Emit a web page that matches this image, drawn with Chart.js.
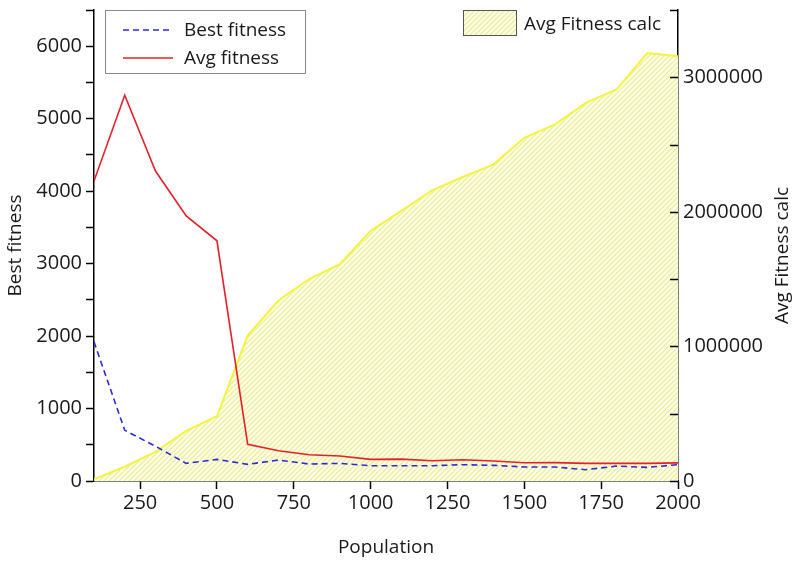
<!DOCTYPE html>
<html>
<head>
<meta charset="utf-8">
<script src="https://cdn.jsdelivr.net/npm/chart.js@4.4.1/dist/chart.umd.min.js"></script>
<style>
  html, body { margin: 0; padding: 0; background: #fff; }
  #wrap { width: 793px; height: 563px; }
</style>
</head>
<body>
<div id="wrap"><canvas id="chart" width="793" height="563"></canvas></div>
<script>
// values
const populations = [100, 200, 300, 400, 500, 600, 700, 800, 900, 1000, 1100, 1200, 1300, 1400, 1500, 1600, 1700, 1800, 1900, 2000];
const bestFitness = [1920, 700, 480, 243, 298, 230, 289, 234, 243, 211, 211, 211, 225, 216, 193, 193, 156, 206, 188, 225];
const avgFitness = [4140, 5323, 4278, 3659, 3315, 505, 417, 362, 344, 298, 302, 280, 293, 275, 252, 253, 243, 243, 243, 250];
const avgFitnessCalc = [12600, 106000, 217000, 373000, 481000, 1081000, 1341000, 1501000, 1612000, 1859000, 2007000, 2160000, 2259000, 2353000, 2550000, 2650000, 2810000, 2909000, 3180000, 3156000];
const xTicks = [250, 500, 750, 1000, 1250, 1500, 1750, 2000];

const FONT = '"Open Sans", "Noto Sans", sans-serif';
const TEXT = '#1a1a1a';

// hatched yellow fill
const makeHatch = () => {
  const c = document.createElement('canvas');
  c.width = 5; c.height = 5;
  const g = c.getContext('2d');
  g.fillStyle = '#fffff0';
  g.fillRect(0, 0, 5, 5);
  g.strokeStyle = '#eeee98';
  g.lineWidth = 1.4;
  g.beginPath();
  g.moveTo(0, 5); g.lineTo(5, 0);
  g.moveTo(-1, 1); g.lineTo(1, -1);
  g.moveTo(4, 6); g.lineTo(6, 4);
  g.stroke();
  return g.createPattern(c, 'repeat');
};
const hatch = makeHatch();

const toPoints = arr => populations.map((p, i) => ({ x: p, y: arr[i] }));

// inward ticks on right axis, right title, both legends
const extras = {
  id: 'extras',
  afterDraw(chart) {
    const ctx = chart.ctx;
    const area = chart.chartArea;
    const y2 = chart.scales.y2;
    ctx.save();
    ctx.strokeStyle = '#000';
    ctx.lineWidth = 1.5;
    y2.ticks.forEach(t => {
      const py = Math.round(y2.getPixelForValue(t.value)) + 0.5;
      ctx.beginPath();
      ctx.moveTo(area.right, py);
      ctx.lineTo(area.right - 8, py);
      ctx.stroke();
    });

    ctx.font = '19px ' + FONT;
    ctx.fillStyle = TEXT;
    ctx.textBaseline = 'middle';

    // right axis title, reads bottom to top
    const area2 = chart.data.datasets.find(d => d.yAxisID === 'y2');
    ctx.save();
    ctx.translate(783, (area.top + area.bottom) / 2 + 10);
    ctx.rotate(-Math.PI / 2);
    ctx.textAlign = 'center';
    ctx.fillText(area2.label, 0, 0);
    ctx.restore();

    // left legend
    const lx = area.left + 11, ly = area.top;
    ctx.fillStyle = '#fff';
    ctx.fillRect(lx, ly, 200, 63);
    ctx.strokeStyle = '#8a8a8a';
    ctx.lineWidth = 1;
    ctx.strokeRect(lx + 0.5, ly + 0.5, 200, 63);
    const items = chart.data.datasets.filter(d => d.yAxisID === 'y');
    items.forEach((d, i) => {
      const yy = ly + 20 + i * 28;
      ctx.strokeStyle = d.borderColor;
      ctx.lineWidth = d.borderWidth;
      ctx.setLineDash(d.borderDash || []);
      ctx.beginPath();
      ctx.moveTo(lx + 18, yy);
      ctx.lineTo(lx + 68, yy);
      ctx.stroke();
      ctx.setLineDash([]);
      ctx.fillStyle = TEXT;
      ctx.fillText(d.label, lx + 79, yy + 1);
    });

    // right legend
    const rx = 463, ry = area.top;
    ctx.fillStyle = hatch;
    ctx.fillRect(rx, ry, 53, 25);
    ctx.strokeStyle = '#555';
    ctx.lineWidth = 1;
    ctx.strokeRect(rx + 0.5, ry + 0.5, 53, 25);
    ctx.fillStyle = TEXT;
    ctx.fillText(area2.label, rx + 61, ry + 15);
    ctx.restore();
  }
};

const noPad = s => { s.paddingTop = 0; s.paddingBottom = 0; };

const ctx = document.getElementById('chart').getContext('2d');
new Chart(ctx, {
  type: 'line',
  data: {
    datasets: [
      {
        label: 'Best fitness',
        data: toPoints(bestFitness),
        yAxisID: 'y',
        borderColor: '#2b2bd6',
        borderWidth: 1.6,
        borderDash: [6, 4],
        pointRadius: 0,
        fill: false,
        order: 1
      },
      {
        label: 'Avg fitness',
        data: toPoints(avgFitness),
        yAxisID: 'y',
        borderColor: '#e4202a',
        borderWidth: 1.6,
        pointRadius: 0,
        fill: false,
        order: 0
      },
      {
        label: 'Avg Fitness calc',
        data: toPoints(avgFitnessCalc),
        yAxisID: 'y2',
        borderColor: '#f4f43c',
        borderWidth: 2,
        backgroundColor: hatch,
        pointRadius: 0,
        fill: 'origin',
        order: 2
      }
    ]
  },
  options: {
    responsive: false,
    animation: false,
    layout: { padding: { top: 10, left: 0, right: 0, bottom: 0 } },
    plugins: {
      legend: { display: false },
      tooltip: { enabled: false }
    },
    scales: {
      x: {
        type: 'linear',
        min: 100,
        max: 2000,
        afterBuildTicks: s => { s.ticks = xTicks.map(v => ({ value: v })); },
        afterFit: s => { s.height = 82; },
        grid: { drawOnChartArea: false, tickLength: 8, tickColor: '#000', tickWidth: 1.5 },
        border: { display: true, color: '#000', width: 1.5 },
        ticks: { color: TEXT, font: { family: FONT, size: 20 }, padding: 2, maxRotation: 0, callback: v => String(v) },
        title: { display: true, text: 'Population', color: TEXT, font: { family: FONT, size: 19 }, padding: { top: 17 } }
      },
      y: {
        position: 'left',
        min: 0,
        max: 6500,
        afterFit: s => { s.width = 94; noPad(s); },
        grid: { drawOnChartArea: false, tickLength: 8, tickColor: '#000', tickWidth: 1.5 },
        border: { display: true, color: '#000', width: 1.5 },
        ticks: {
          stepSize: 500,
          color: TEXT,
          font: { family: FONT, size: 20 },
          padding: 4,
          callback: v => (v % 1000 === 0 ? String(v) : '')
        },
        title: { display: true, text: 'Best fitness', color: TEXT, font: { family: FONT, size: 19 }, padding: { bottom: 6 } }
      },
      y2: {
        position: 'right',
        min: 0,
        max: 3500000,
        afterFit: s => { s.width = 115; noPad(s); },
        grid: { drawOnChartArea: false, drawTicks: false },
        border: { display: true, color: '#000', width: 1.5 },
        ticks: {
          stepSize: 500000,
          color: TEXT,
          font: { family: FONT, size: 20 },
          padding: 5,
          callback: v => (v % 1000000 === 0 ? String(v) : '')
        },
        title: { display: false }
      }
    }
  },
  plugins: [extras]
});
</script>
</body>
</html>
